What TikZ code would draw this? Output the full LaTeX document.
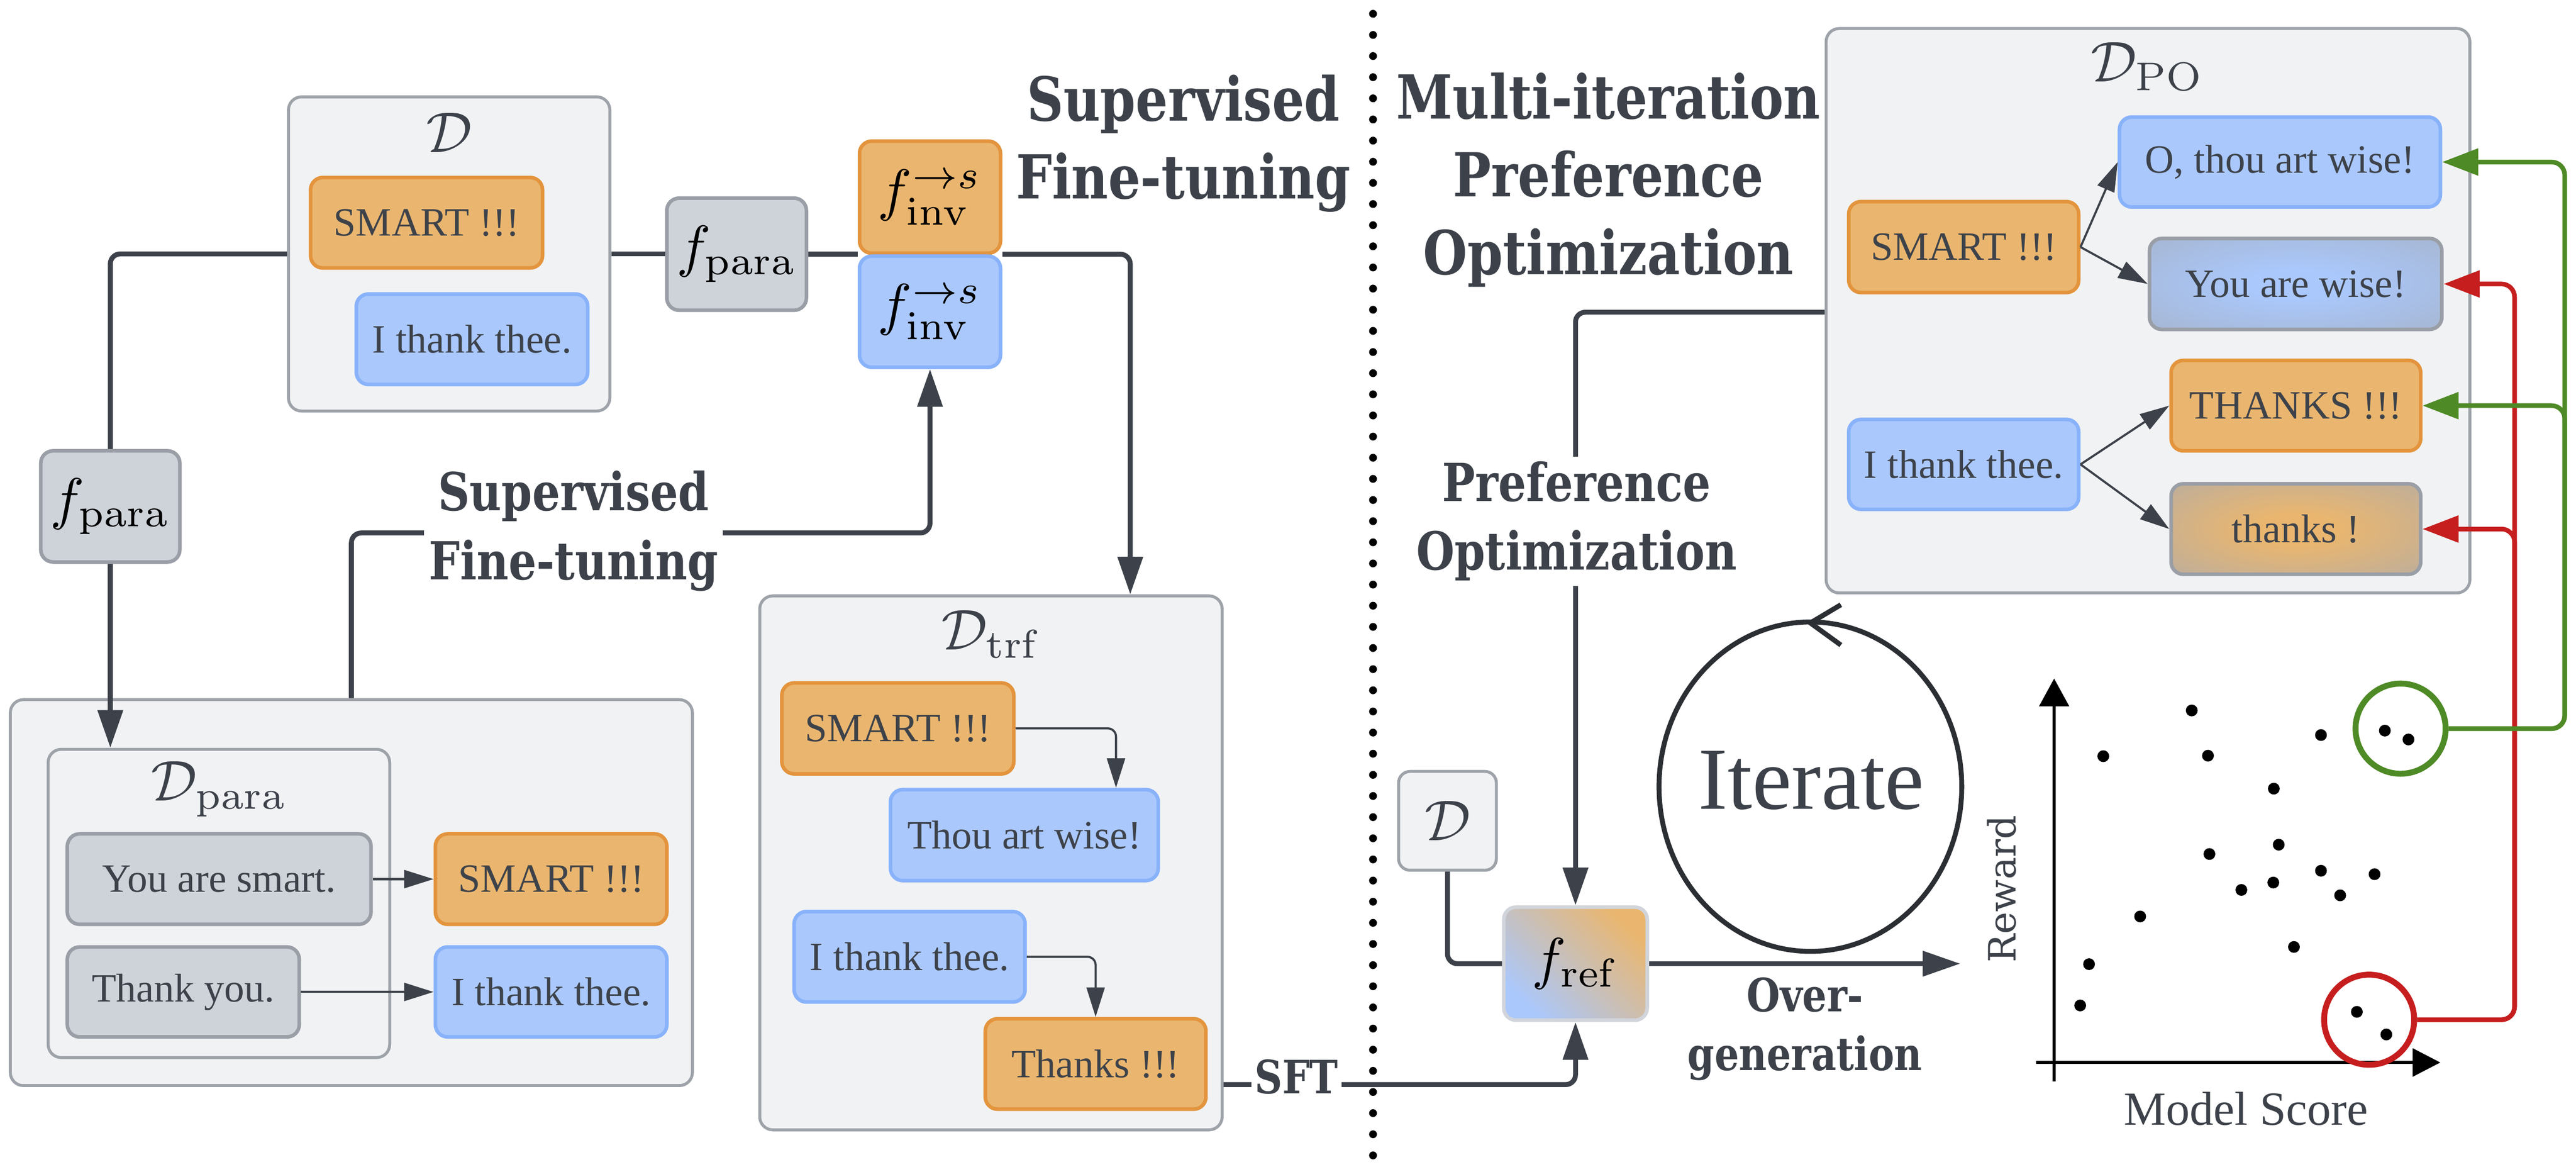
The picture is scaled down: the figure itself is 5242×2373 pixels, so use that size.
\documentclass[tikz,border=0pt]{standalone}
\usepackage[no-math]{fontspec}
\usepackage{graphicx}
\setmainfont{Liberation Serif}
\newfontfamily\lblfont{DejaVu Serif Condensed Bold}[FakeStretch=0.93]
\newfontfamily\rwfont{DejaVu Serif}
\usetikzlibrary{arrows.meta,calc}
\newcommand\mlabel[2]{\scalebox{#1}{$#2$}}
\definecolor{txt}{HTML}{3D424A}
\definecolor{ofill}{HTML}{EAB66F}
\definecolor{odraw}{HTML}{E3943D}
\definecolor{bfill}{HTML}{AAC8FC}
\definecolor{bdraw}{HTML}{88B2FA}
\definecolor{gfill}{HTML}{CED3DA}
\definecolor{gdraw}{HTML}{9A9EA6}
\definecolor{cfill}{HTML}{F1F2F4}
\definecolor{cdraw}{HTML}{9EA2A9}
\definecolor{conncol}{HTML}{3D424A}
\definecolor{grn}{HTML}{4E8A25}
\definecolor{rd}{HTML}{C61E1E}
\definecolor{frefdraw}{HTML}{D1D5DB}
\definecolor{edgeb}{HTML}{A4ADBC}
\definecolor{edgeo}{HTML}{A7AAB2}
\definecolor{midg}{HTML}{C2C2C4}
\definecolor{itercol}{HTML}{2B2E33}
\pgfdeclareradialshading{bluec}{\pgfpoint{0bp}{0bp}}{color(0bp)=(bfill); color(8bp)=(bfill); color(50bp)=(edgeb)}
\pgfdeclareradialshading{orangec}{\pgfpoint{0bp}{0bp}}{color(0bp)=(ofill); color(8bp)=(ofill); color(50bp)=(edgeo)}
\tikzset{
  sz/.style 2 args={minimum width=#1*0.3pt, minimum height=#2*0.3pt},
  box/.style={rounded corners=7.5pt, line width=2.2pt, inner sep=0pt, font=\fontsize{24.5}{28}\selectfont, text=txt},
  obox/.style={box, fill=ofill, draw=odraw},
  bbox/.style={box, fill=bfill, draw=bdraw},
  gbox/.style={box, fill=gfill, draw=gdraw},
  fbox/.style={box, text=black, font=\fontsize{10}{12}\selectfont},
  cont/.style={rounded corners=8pt, line width=1.8pt, fill=cfill, draw=cdraw, inner sep=0pt},
  mlbl/.style={font=\fontsize{10}{12}\selectfont, text=txt, inner sep=0pt},
  conn/.style={line width=3pt, draw=conncol, rounded corners=6pt},
  mainarrow/.style={conn, -{Triangle[length=23pt,width=15pt]}},
  thinarrow/.style={line width=1.3pt, draw=conncol, rounded corners=5pt, -{Triangle[length=18pt,width=11pt]}},
  garrow/.style={line width=2.8pt, draw=grn, rounded corners=8pt, -{Triangle[length=22pt,width=16pt]}},
  rarrow/.style={line width=2.8pt, draw=rd, rounded corners=8pt, -{Triangle[length=22pt,width=16pt]}},
  biglbl/.style={font=\lblfont\fontsize{37}{47.4}\selectfont, text=txt, align=center, inner sep=0pt},
  midlbl/.style={font=\lblfont\fontsize{32}{42}\selectfont, text=txt, align=center, fill=white, inner sep=3pt},
  smlbl/.style={font=\lblfont\fontsize{28}{38}\selectfont, text=txt, align=center, fill=white, inner sep=2pt},
  dot/.style={fill=black}
}
\begin{document}
\begin{tikzpicture}[x=0.3pt,y=-0.3pt]
\fill[white] (0,0) rectangle (5242,2373);
\useasboundingbox (0,0) rectangle (5242,2373);

% ---------------- left part ----------------
\node[cont, sz={654}{639}] (Dbox) at (914,516.5) {};
\node[mlbl] (DboxL) at (914,270) {\mlabel{3.5}{\mathcal{D}}};
\node[obox, sz={472}{184}] (smartA) at (868,453) {SMART !!!};
\node[bbox, sz={471}{184}] (thankA) at (960.5,690) {I thank thee.};
\node[gbox, fbox, sz={284}{228}] (fparaA) at (1499,517) {\mlabel{3.5}{f_{\mathrm{para}}}};
\node[obox, fbox, sz={287}{228}] (finvO) at (1892.5,401) {\mlabel{3.5}{f^{\rightarrow s}_{\mathrm{inv}}}};
\node[bbox, fbox, sz={287}{226}] (finvB) at (1892.5,634) {\mlabel{3.5}{f^{\rightarrow s}_{\mathrm{inv}}}};
\node[gbox, fbox, sz={283}{226}] (fparaB) at (224.5,1030) {\mlabel{3.5}{f_{\mathrm{para}}}};

\node[cont, sz={1388}{785}] (DparaO) at (715,1815.5) {};
\node[cont, sz={695}{627}] (DparaI) at (445.5,1837.5) {};
\node[mlbl] (DparaL) at (446,1605) {\mlabel{3.5}{\mathcal{D}_{\mathrm{para}}}};
\node[gbox, sz={618}{184}] (yas) at (446,1788) {You are smart.};
\node[gbox, sz={472}{183}] (ty) at (373,2017.5) {Thank you.};
\node[obox, sz={471}{184}] (smartB) at (1121.5,1788) {SMART !!!};
\node[bbox, sz={471}{183}] (thankB) at (1121.5,2017.5) {I thank thee.};

\node[cont, sz={941}{1086}] (Dtrf) at (2016.5,1755) {};
\node[mlbl] (DtrfL) at (2018,1290) {\mlabel{3.5}{\mathcal{D}_{\mathrm{trf}}}};
\node[obox, sz={472}{185}] (smartC) at (1827,1481.5) {SMART !!!};
\node[bbox, sz={545}{185}] (thou) at (2084.5,1698.5) {Thou art wise!};
\node[bbox, sz={470}{184}] (thankC) at (1851,1946) {I thank thee.};
\node[obox, sz={449}{184}] (thanksC) at (2229.5,2164) {Thanks !!!};

% connectors left
\draw[conn] (Dbox.west) -| (fparaB.north);
\draw[mainarrow] (fparaB.south) -- (fparaB.south |- DparaI.north);
\draw[conn] (Dbox.east) -- (Dbox.east -| fparaA.west);
\draw[conn] (fparaA.east) -- (fparaA.east -| finvB.west);
\draw[mainarrow] (finvB.east |- fparaA.east) -| (Dtrf.north -| 2300,0);
\draw[mainarrow] (DparaO.north) -- ++(0,-336) -| (finvB.south);
\draw[thinarrow] (yas.east) -- (smartB.west);
\draw[thinarrow] (ty.east) -- (thankB.west);
\draw[thinarrow] (smartC.east) -| (thou.north -| 2271,0);
\draw[thinarrow] (thankC.east) -| (thanksC.north);

\node[midlbl] (sftlblA) at (1167,1080) {Supervised\\Fine-tuning};
\node[biglbl] (sftlblB) at (2408,292) {Supervised\\Fine-tuning};

% separator
\draw[line width=4.8pt, line cap=round, dash pattern=on 0pt off 12.9pt, color=black] (2794,28) -- (2794,2373);

% ---------------- right part ----------------
\node[biglbl] (mipo) at (3273,366) {Multi-iteration\\Preference\\Optimization};

\node[cont, sz={1310}{1148}] (DPO) at (4371,632) {};
\node[mlbl] (DPOL) at (4370,135) {\mlabel{3.5}{\mathcal{D}_{\mathrm{PO}}}};
\node[obox, sz={468}{185}] (smartD) at (3996,502.5) {SMART !!!};
\node[bbox, sz={653}{183}] (othou) at (4639.5,329.5) {O, thou art wise!};
\node[box, draw=gdraw, shading=bluec, shade, sz={595}{185}] (yaw) at (4671.5,577.5) {You are wise!};
\node[bbox, sz={468}{183}] (thankD) at (3996,944.5) {I thank thee.};
\node[obox, sz={508}{184}] (THANKS) at (4672,825) {THANKS !!!};
\node[box, draw=gdraw, shading=orangec, shade, sz={508}{184}] (thanksD) at (4672,1076) {thanks !};

\draw[thinarrow] (smartD.east) -- (othou.west);
\draw[thinarrow] (smartD.east) -- (yaw.west);
\draw[thinarrow] (thankD.east) -- (THANKS.west);
\draw[thinarrow] (thankD.east) -- (thanksD.west);

\node[cont, rounded corners=7pt, sz={199}{201}] (Dsmall) at (2945.5,1669.5) {};
\node[mlbl] (DsmallL) at (Dsmall) {\mlabel{3.5}{\mathcal{D}}};
\node[box, fbox, draw=frefdraw, left color=bfill, middle color=midg, right color=ofill, shading angle=135, sz={292}{230}] (fref) at (3206,1960) {\mlabel{3.5}{f_{\mathrm{ref}}}};

\draw[mainarrow] (DPO.west |- 0,635) -| (fref.north);
\draw[conn] (Dsmall.south) |- (fref.west);
\draw[mainarrow] (Dtrf.east |- 0,2206) -| (fref.south);
\coordinate (ogEnd) at (3989,1960);
\draw[mainarrow] (fref.east) -- (ogEnd);

\node[midlbl] (polbl) at (3208,1060) {Preference\\Optimization};
\node[smlbl] (sftlblC) at (2638,2190) {SFT};
\node[smlbl, fill=none, font=\lblfont\fontsize{28}{36}\selectfont] (oglbl) at (3673,2093) {Over-\\generation};

% iterate loop
\draw[line width=3pt, color=itercol] (3684,1600) ellipse [x radius=92.4pt, y radius=100.5pt];
\draw[line width=3pt, color=itercol] (3746,1230) -- (3684,1267) -- (3746,1312);
\node[font=\fontsize{54}{60}\selectfont, text=txt, inner sep=0pt] (iter) at (3686,1587) {Iterate};

% plot
\coordinate (yaxB) at (4180,2199);
\coordinate (yaxT) at (4180,1380);
\coordinate (xaxL) at (4143,2161);
\coordinate (xaxR) at (4966,2161);
\draw[line width=2pt, -{Triangle[length=17pt,width=18pt]}] (yaxB) -- (yaxT);
\draw[line width=2pt, -{Triangle[length=17pt,width=17pt]}] (xaxL) -- (xaxR);
\node[font=\rwfont\fontsize{23}{28}\selectfont, text=txt, rotate=90, inner sep=0pt] (rw) at (4073,1808) {Reward};
\node[font=\fontsize{29}{34}\selectfont, text=txt, inner sep=0pt] (ms) at (4570,2255) {Model Score};
\foreach \p in {(4460,1445),(4280,1538),(4493,1537),(4723,1495),(4853,1486),(4901,1504),
  (4627,1604),(4637,1718),(4496,1737),(4723,1771),(4832,1778),(4561,1810),(4626,1795),
  (4762,1821),(4355,1864),(4668,1926),(4251,1961),(4233,2045),(4796,2058),(4856,2104)}
  \fill[dot] \p circle (3.6pt);
\node[circle, draw=grn, line width=3.6pt, minimum size=55pt, inner sep=0pt] (gcirc) at (4885,1482) {};
\node[circle, draw=rd, line width=3.6pt, minimum size=55pt, inner sep=0pt] (rcirc) at (4821,2074) {};

\draw[rarrow] (rcirc.east) -- (5117,2074) |- (yaw.east);
\draw[rarrow] (rcirc.east) -- (5117,2074) |- (thanksD.east);
\draw[garrow] (gcirc.east) -- (5219,1482) |- (othou.east);
\draw[garrow] (gcirc.east) -- (5219,1482) |- (THANKS.east);
\end{tikzpicture}
\end{document}
